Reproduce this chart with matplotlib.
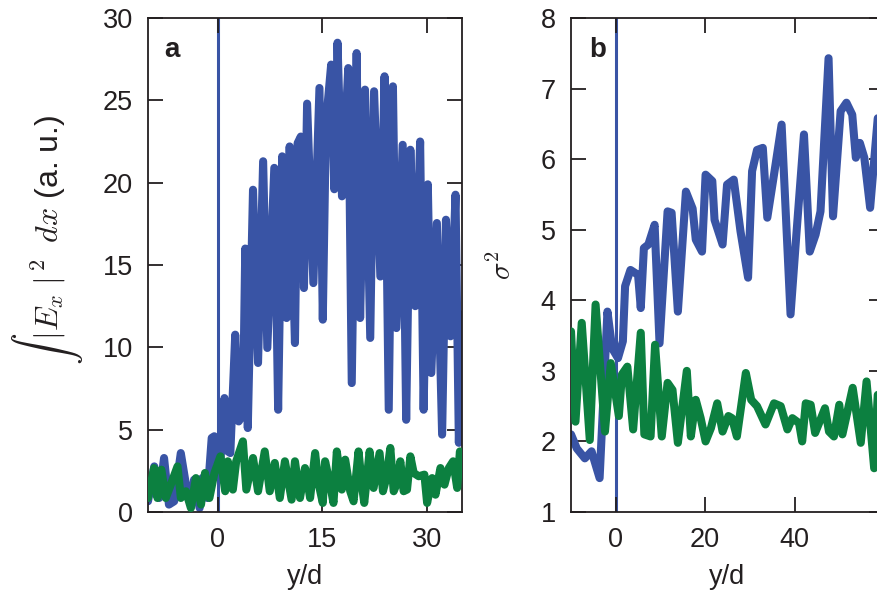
import matplotlib
matplotlib.use("Agg")
import matplotlib.pyplot as plt

plt.rcParams['font.family'] = ['Liberation Sans', 'DejaVu Sans']
plt.rcParams['mathtext.fontset'] = 'cm'

# ---------------- Panel a data ----------------
a_blue_x = [-10, -9.1, -8.4, -7.7, -7.0, -6.25, -5.3, -4.6, -3.9, -3.4, -2.6, -2.2, -1.5,
            -0.87, -0.5, 0.24, 0.96, 1.44, 1.8, 2.5, 3.0, 3.6, 3.94, 4.3, 5.05, 5.77, 6.5,
            7.1, 8.1, 8.65, 9.23, 9.86, 10.3, 11.06, 11.44, 11.9, 12.35, 12.8, 13.7, 14.57,
            15.05, 15.5, 16.25, 16.7, 17.16, 17.8, 18.7, 19.2, 19.9, 20.4, 21.1, 21.85, 22.4,
            23.3, 23.9, 24.5, 25.1, 25.6, 26.5, 27.0, 27.6, 28.3, 29.0, 29.5, 30.1, 30.6,
            31.4, 32.15, 32.7, 33.35, 34.07, 34.55, 35]
a_blue_y = [0.65, 2.77, 0.85, 3.28, 0.45, 0.65, 3.58, 1.76, 0.45, 1.96, 0.24, 2.07, 0.85,
            4.5, 4.6, 2.17, 6.92, 3.68, 3.58, 10.77, 5.5, 5.9, 16.0, 5.1, 19.57, 9.05, 21.3,
            9.96, 20.9, 6.21, 21.6, 11.78, 22.2, 10.26, 22.4, 22.8, 13.6, 24.8, 13.9, 25.75,
            11.68, 23.6, 27.17, 19.6, 28.5, 19.17, 26.96, 7.83, 27.87, 11.78, 25.65, 10.57, 25.55,
            14.3, 26.46, 6.21, 25.85, 11.17, 22.3, 5.6, 22.0, 12.5, 22.5, 6.21, 19.9, 8.44,
            17.55, 4.7, 17.75, 10.67, 19.27, 4.2, 12.0]

a_green_x = [-10, -9.13, -8.65, -8.08, -7.45, -6.73, -5.77, -5.29, -4.57, -3.85, -3.13, -2.4,
             -1.83, -1.2, -0.48, 0.38, 1.06, 1.44, 2.16, 2.64, 3.6, 4.09, 5.05, 5.77, 6.73,
             7.45, 8.17, 8.89, 9.62, 10.58, 11.06, 11.78, 12.5, 12.75, 13.23, 13.95, 14.43,
             15.05, 15.38, 16.1, 16.58, 17.06, 17.78, 18.26, 18.98, 19.46, 20.17, 20.65, 20.99,
             21.76, 22.33, 23.19, 23.67, 24.15, 24.73, 25.21, 25.69, 26.16, 26.64, 27.12, 27.6,
             28.08, 28.8, 29.61, 30.0, 30.72, 31.2, 31.91, 32.49, 33.11, 33.73, 34.31, 34.7, 35]
a_green_y = [0.85, 2.67, 0.85, 2.57, 0.85, 1.66, 2.77, 0.85, 1.26, 0.24, 2.06, 0.45,
             2.37, 0.85, 2.37, 3.38, 1.26, 3.08, 1.36, 3.08, 4.29, 1.36, 3.28, 1.26, 3.68,
             1.26, 2.98, 0.85, 3.08, 0.75, 3.08, 0.85, 2.67, 2.17, 0.85, 3.58, 1.76,
             0.55, 3.08, 1.66, 0.55, 3.68, 1.36, 3.18, 1.26, 0.65, 3.68, 1.66, 0.55,
             3.68, 1.46, 3.58, 1.26, 2.06, 3.89, 1.26, 1.76, 3.08, 1.26, 1.36, 3.38,
             2.37, 2.17, 2.27, 0.55, 2.06, 1.05, 2.67, 1.66, 2.67, 3.08, 1.46, 3.68, 2.6]

# ---------------- Panel b data ----------------
b_blue_x = [-10, -8.7, -6.9, -5.4, -3.6, -1.85, -0.8, 0.5, 1.6, 2.1, 3.3, 5.0, 5.6, 6.3,
            7.3, 8.7, 9.8, 11.6, 12.5, 13.9, 15.7, 17.2, 17.9, 19.3, 20.1, 21.6, 22.1, 23.9,
            24.9, 26.4, 27.9, 29.6, 30.5, 31.6, 32.9, 33.9, 35.4, 37.1, 39.1, 40.4, 42.1,
            43.4, 44.7, 45.8, 47.6, 48.6, 50.3, 51.6, 52.9, 53.7, 54.6, 55.6, 56.9, 58.6, 60]
b_blue_y = [2.1, 1.9, 1.76, 1.86, 1.48, 3.84, 3.32, 3.18, 3.42, 4.2, 4.43, 4.36, 3.89, 4.74,
            4.79, 5.07, 3.39, 5.26, 5.24, 3.84, 5.54, 5.3, 4.86, 4.69, 5.78, 5.69, 5.14, 4.79,
            5.64, 5.71, 4.98, 4.32, 5.83, 6.13, 6.16, 5.17, 5.78, 6.49, 3.8, 4.93, 6.35,
            4.69, 4.93, 5.26, 7.43, 5.19, 6.68, 6.8, 6.63, 6.02, 6.23, 6.02, 5.31, 6.58, 6.3]

b_green_x = [-10, -9.0, -7.6, -5.8, -4.5, -2.4, -1.1, 0.7, 1.4, 2.6, 3.9, 5.6, 6.4, 7.8,
             8.8, 10.3, 11.6, 12.7, 13.9, 15.9, 16.8, 17.9, 19.0, 20.1, 21.3, 22.7, 23.9,
             25.2, 26.0, 27.1, 29.1, 30.3, 31.6, 33.5, 35.4, 36.9, 38.4, 39.5, 41.0, 41.7,
             42.5, 43.6, 44.6, 46.8, 47.7, 48.8, 50.0, 50.7, 53.0, 54.8, 56.1, 57.8, 58.6, 60]
b_green_y = [3.56, 2.28, 3.68, 2.02, 3.94, 2.14, 3.11, 2.36, 2.95, 3.06, 2.17, 3.54, 2.1, 2.07,
             3.37, 2.07, 2.83, 2.73, 1.98, 3.0, 2.07, 2.59, 2.33, 2.0, 2.19, 2.54, 2.14,
             2.36, 2.33, 2.07, 2.97, 2.59, 2.5, 2.24, 2.54, 2.5, 2.17, 2.33, 2.26, 2.0,
             2.54, 2.52, 2.12, 2.47, 2.14, 2.07, 2.52, 2.1, 2.76, 1.98, 2.85, 1.62, 2.66, 2.5]

a_xticks = [0, 15, 30]
a_yticks = [0, 5, 10, 15, 20, 25, 30]
b_xticks = [0, 20, 40]
b_yticks = [1, 2, 3, 4, 5, 6, 7, 8]

BLUE = '#3954A5'
GREEN = '#0C8040'
DARK = '#231F20'

W, H = 877, 601
fig = plt.figure(figsize=(W / 100, H / 100), dpi=100)
axa = fig.add_axes([148 / W, (H - 512) / H, 314 / W, 494 / H])
axb = fig.add_axes([571 / W, (H - 512) / H, 313 / W, 494 / H])

lw = 5.8
for ax, bx, by, gx, gy in [(axa, a_blue_x, a_blue_y, a_green_x, a_green_y),
                           (axb, b_blue_x, b_blue_y, b_green_x, b_green_y)]:
    ax.axvline(0, color=BLUE, lw=2.2, zorder=1)
    ax.plot(bx, by, color=BLUE, lw=lw, solid_joinstyle='round', solid_capstyle='round', zorder=2)
    ax.plot(gx, gy, color=GREEN, lw=lw, solid_joinstyle='round', solid_capstyle='round', zorder=3)
    for s in ax.spines.values():
        s.set_color(DARK)
        s.set_linewidth(1.3)
    ax.tick_params(direction='in', length=11, width=1.3, color=DARK, top=True, right=True,
                   labelsize=19.5, labelcolor=DARK, pad=11)
    ax.set_xlabel('y/d', fontsize=19.5, color=DARK)
    ax.xaxis.set_label_coords(0.5, -0.105)

axa.set_xlim(-10, 35)
axa.set_ylim(0, 30)
axa.set_xticks(a_xticks)
axa.set_yticks(a_yticks)
axa.set_ylabel(r'$\int\;|E_x\;|^{\,2}\;\;dx$ (a. u.)', fontsize=23, color=DARK)
axa.yaxis.set_label_coords(-0.20, 0.55)
axa.text(0.077, 0.935, 'a', transform=axa.transAxes, fontsize=20, fontweight='bold',
         color=DARK, ha='center', va='center')

axb.set_xlim(-10, 60)
axb.set_ylim(1, 8)
axb.set_xticks(b_xticks)
axb.set_yticks(b_yticks)
axb.set_ylabel(r'$\sigma^2$', fontsize=21, color=DARK)
axb.yaxis.set_label_coords(-0.175, 0.5)
axb.text(0.086, 0.935, 'b', transform=axb.transAxes, fontsize=20, fontweight='bold',
         color=DARK, ha='center', va='center')

fig.savefig('out.png', dpi=100)
